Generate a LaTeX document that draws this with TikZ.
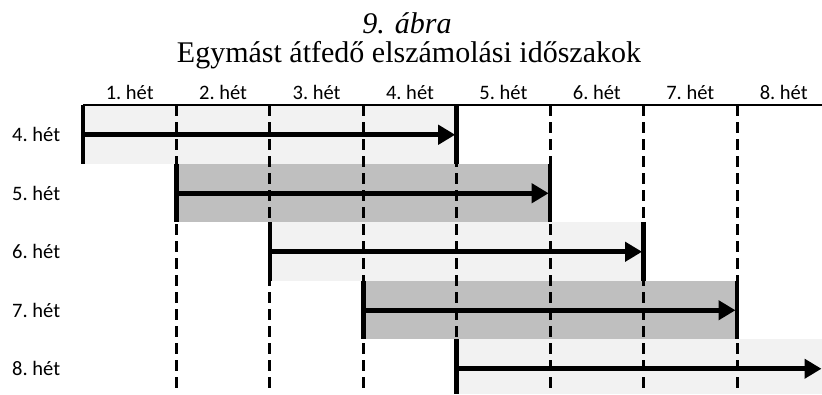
\documentclass[tikz,border=0pt]{standalone}
\usepackage{fontspec}
\setmainfont{Liberation Serif}
\newfontfamily\labelfont{Carlito}
\usetikzlibrary{arrows.meta}
\definecolor{barlight}{HTML}{F2F2F2}
\definecolor{bardark}{HTML}{BFBFBF}
\begin{document}
\begin{tikzpicture}[x=1pt,y=-1pt,
  weeklabel/.style={font=\labelfont\fontsize{20.5}{24}\selectfont, inner sep=0pt},
  titletext/.style={font=\fontsize{30}{34}\selectfont, inner sep=0pt, anchor=base},
  gridline/.style={line width=3pt, dash pattern=on 11pt off 6pt},
  edgebar/.style={line width=4.5pt},
  period/.style={line width=5pt, -{Triangle[length=17pt,width=19pt]}},
]
\useasboundingbox (0,0) rectangle (822,394);
\def\colw{93.43}
\def\rowh{58.5}

% title
\node[titletext, font=\fontsize{30}{34}\selectfont\itshape] (t1) at (407,33) {9. ábra};
\node[titletext] (t2) at (409,62) {Egymást átfedő elszámolási időszakok};

% column headings
\foreach \k in {1,...,8} {
  \node[weeklabel, anchor=base] (h\k) at ({83+\colw*(\k-0.5)},99) {\k.\ hét};
}

% settlement periods: shaded bars and their anchor points
\foreach \i/\c in {0/barlight,1/bardark,2/barlight,3/bardark,4/barlight} {
  \pgfmathsetmacro\xs{83+\colw*\i}
  \pgfmathsetmacro\xe{min(83+\colw*(\i+4),822)}
  \pgfmathsetmacro\yt{105+\rowh*\i}
  \pgfmathsetmacro\yb{min(\yt+\rowh,394)}
  \pgfmathsetmacro\ym{\yt+\rowh/2+0.5}
  \fill[\c] (\xs,\yt) rectangle (\xe,\yb);
  \coordinate (top\i) at (\xs,\yt);
  \coordinate (bot\i) at (\xs,\yb);
  \coordinate (etop\i) at ({83+\colw*(\i+4)},\yt);
  \coordinate (ebot\i) at ({83+\colw*(\i+4)},\yb);
  \coordinate (s\i) at (\xs,\ym);
  \coordinate (e\i) at ({min(83+\colw*(\i+4)-1.5,821.5)},\ym);
  \pgfmathtruncatemacro\wk{\i+4}
  \node[weeklabel, anchor=base west] (r\wk) at (12,{141.7+\rowh*\i}) {\wk.\ hét};
}

% week boundaries
\foreach \k in {1,...,7} {
  \coordinate (g\k) at ({83+\colw*\k},105);
  \coordinate (gb\k) at ({83+\colw*\k},394);
  \draw[gridline] (g\k) -- (gb\k);
}

% top rule
\coordinate (ruleL) at (83,105);
\coordinate (ruleR) at (822,105);
\draw[line width=2.5pt] (ruleL) -- (ruleR);

% start and end marks of each period
\foreach \i in {0,...,4} {
  \draw[edgebar] (top\i) -- (bot\i);
}
\foreach \i in {0,...,3} {
  \draw[edgebar] (etop\i) -- (ebot\i);
}

% period arrows
\foreach \i in {0,...,4} {
  \draw[period] (s\i) -- (e\i);
}
\end{tikzpicture}
\end{document}
